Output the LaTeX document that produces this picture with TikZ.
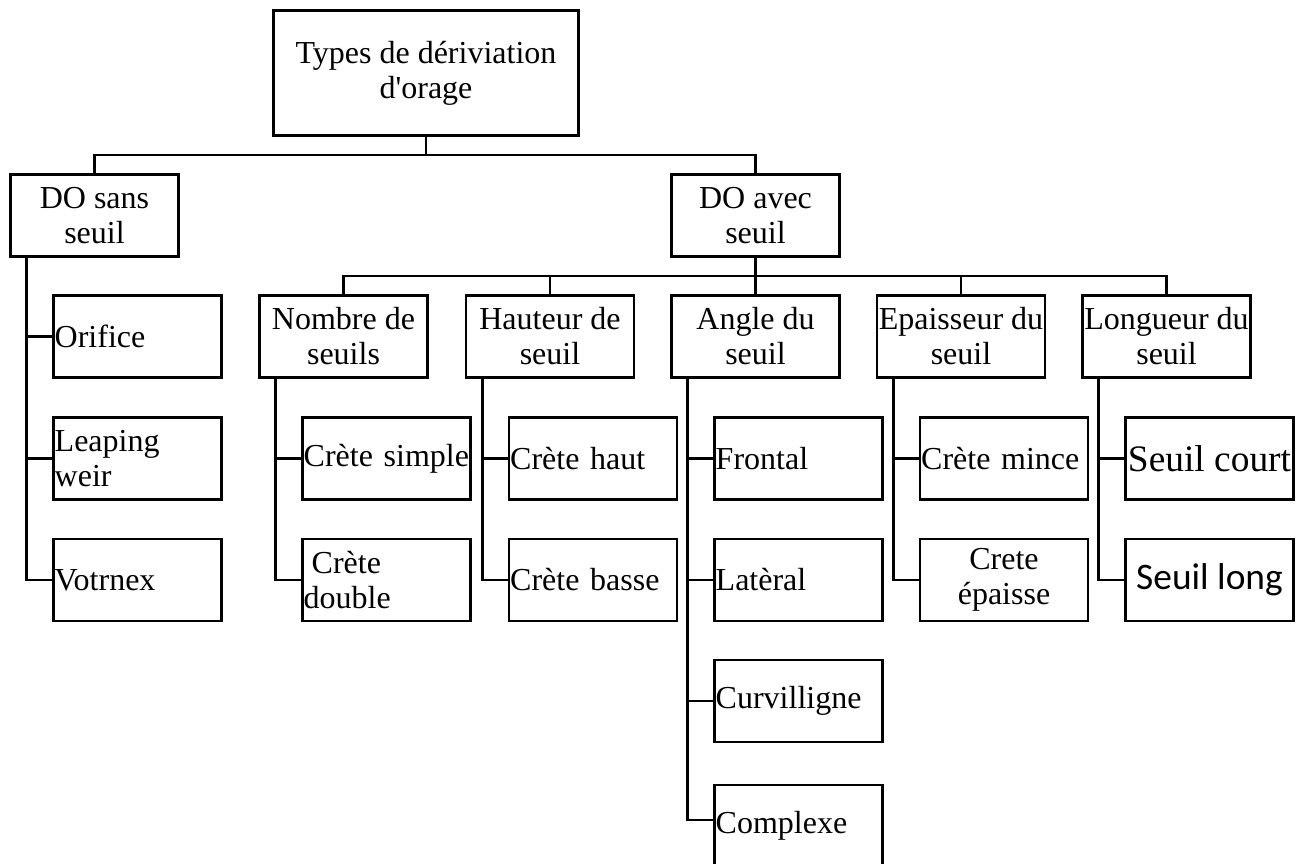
\documentclass[tikz,border=0pt]{standalone}
\usepackage{fontspec}
\setmainfont{Liberation Serif}
\newfontfamily\calibri{Carlito}
\usetikzlibrary{positioning}

\tikzset{
  box/.style={draw, line width=1.3pt, minimum width=84pt, minimum height=41pt,
    inner xsep=0.5pt, inner ysep=1.5pt, align=center,
    font=\fontsize{16}{17.5}\selectfont},
  leaf/.style={box, inner xsep=0.6pt, text width=82.8pt, align=left},
  big/.style={box, font=\fontsize{18.7}{20}\selectfont},
  wide/.style={box, font=\calibri\fontsize{18.7}{20}\selectfont},
  link/.style={line width=1.3pt},
}

\begin{document}
\begin{tikzpicture}[x=0.5pt,y=-0.5pt]
  \useasboundingbox (0,0) rectangle (1309,863);
  % root and first level
  \node[box, minimum width=152.5pt, minimum height=62.5pt,
    font=\fontsize{16}{16}\selectfont] (types) at (426,73)
    {\raisebox{-3pt}{\shortstack{Types de dériviation\\d\textquotesingle orage}}};
  \node[box] (sans) at (94.5,215.5) {DO sans\\seuil};
  \node[box] (avec) at (755.5,215.5) {DO avec\\seuil};
  % criteria
  \node[box] (nombre) at (343.5,336.5) {Nombre de\\seuils};
  \node[box] (hauteur) at (550,336.5) {Hauteur de\\seuil};
  \node[box] (angle) at (755.5,336.5) {Angle du\\seuil};
  \node[box] (epais) at (961,336.5) {Epaisseur du\\seuil};
  \node[box] (longueur) at (1166.5,336.5) {Longueur du\\seuil};
  % leaves
  \node[leaf] (orifice) at (137.5,336.5) {Orifice};
  \node[leaf] (leaping) at (137.5,458.5) {Leaping\\weir};
  \node[leaf] (votrnex) at (137.5,580) {Votrnex};
  \node[leaf] (simple) at (386.5,458.5) {Crète simple};
  \node[leaf] (double) at (386.5,580) {\hspace{4pt}Crète\\double};
  \node[leaf] (haut) at (593,458.5) {Crète haut};
  \node[leaf] (basse) at (593,580) {Crète basse};
  \node[leaf] (frontal) at (798.5,458.5) {Frontal};
  \node[leaf] (lateral) at (798.5,580) {Latèral};
  \node[leaf] (curvi) at (798.5,701) {Curvilligne};
  \node[leaf] (complexe) at (798.5,826) {Complexe};
  \node[leaf] (mince) at (1004,458.5) {Crète mince};
  \node[box] (epaisse) at (1004,580) {Crete\\épaisse};
  \node[big] (court) at (1209.5,458.5) {Seuil court};
  \node[wide] (long) at (1209.5,580) {Seuil long};
  % buses
  \draw[link] (types.south) -- ++(0,18) coordinate (bus1);
  \draw[link] (bus1) -| (sans.north);
  \draw[link] (bus1) -| (avec.north);
  \draw[link] (avec.south) -- ++(0,18) coordinate (bus2);
  \foreach \c in {nombre,hauteur,angle,epais,longueur}
    \draw[link] (bus2) -| (\c.north);
  % trunks
  \draw[link] (sans.south west) ++(17.5,0) |- (orifice.west);
  \draw[link] (sans.south west) ++(17.5,0) |- (leaping.west);
  \draw[link] (sans.south west) ++(17.5,0) |- (votrnex.west);
  \draw[link] (nombre.south west) ++(17.5,0) |- (simple.west);
  \draw[link] (nombre.south west) ++(17.5,0) |- (double.west);
  \draw[link] (hauteur.south west) ++(17.5,0) |- (haut.west);
  \draw[link] (hauteur.south west) ++(17.5,0) |- (basse.west);
  \foreach \c in {frontal,lateral,curvi}
    \draw[link] (angle.south west) ++(17.5,0) |- (\c.west);
  \draw[link] (angle.south west) ++(17.5,0) |- ([yshift=3]complexe.west);
  \draw[link] (epais.south west) ++(17.5,0) |- (mince.west);
  \draw[link] (epais.south west) ++(17.5,0) |- (epaisse.west);
  \draw[link] (longueur.south west) ++(17.5,0) |- (court.west);
  \draw[link] (longueur.south west) ++(17.5,0) |- (long.west);
\end{tikzpicture}
\end{document}
